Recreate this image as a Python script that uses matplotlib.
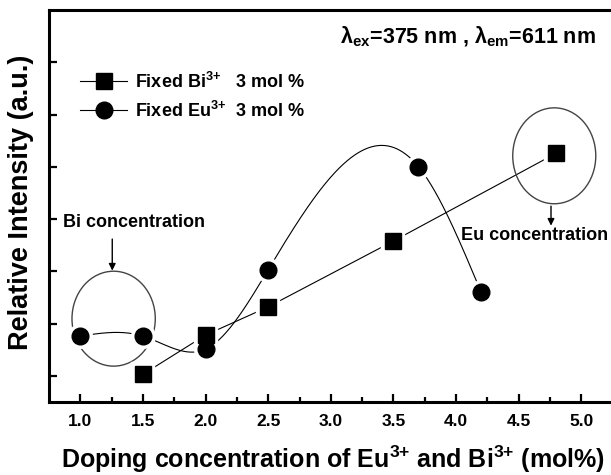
import matplotlib.pyplot as plt
import numpy as np
from matplotlib.patches import Ellipse
from matplotlib.lines import Line2D
from matplotlib import font_manager

# data (y in arbitrary units, one unit per major tick)
bi_x = [1.5, 2.0, 2.5, 3.5, 4.8]
bi_y = [1.03, 1.78, 2.32, 3.58, 5.26]
eu_x = [1.0, 1.5, 2.0, 2.5, 3.7, 4.2]
eu_y = [1.76, 1.76, 1.51, 3.03, 5.0, 2.6]
x_ticks = [1.0, 1.5, 2.0, 2.5, 3.0, 3.5, 4.0, 4.5, 5.0]
y_ticks = [1, 2, 3, 4, 5, 6, 7]

names = {f.name for f in font_manager.fontManager.ttflist}
fam = 'Liberation Sans Narrow' if 'Liberation Sans Narrow' in names else 'Liberation Sans'
plt.rcParams['font.family'] = [fam, 'DejaVu Sans']
plt.rcParams['font.weight'] = 'bold'
plt.rcParams['mathtext.fontset'] = 'custom'
plt.rcParams['mathtext.bf'] = fam + ':bold'
plt.rcParams['mathtext.rm'] = fam + ':bold'
plt.rcParams['mathtext.it'] = fam + ':bold'


def natural_spline(x, y, xs):
    x = np.asarray(x, float)
    y = np.asarray(y, float)
    n = len(x)
    h = np.diff(x)
    A = np.zeros((n, n))
    r = np.zeros(n)
    A[0, 0] = A[-1, -1] = 1
    for i in range(1, n - 1):
        A[i, i - 1] = h[i - 1]
        A[i, i] = 2 * (h[i - 1] + h[i])
        A[i, i + 1] = h[i]
        r[i] = 3 * ((y[i + 1] - y[i]) / h[i] - (y[i] - y[i - 1]) / h[i - 1])
    c = np.linalg.solve(A, r)
    b = np.diff(y) / h - h * (2 * c[:-1] + c[1:]) / 3
    d = np.diff(c) / (3 * h)
    idx = np.clip(np.searchsorted(x, xs) - 1, 0, n - 2)
    dx = xs - x[idx]
    return y[idx] + b[idx] * dx + c[idx] * dx ** 2 + d[idx] * dx ** 3


fig = plt.figure(figsize=(6.11, 4.75), dpi=100)
ax = fig.add_axes([0.0802, 0.1537, 0.9198, 0.8253])

# connecting lines
ax.plot(bi_x, bi_y, color='k', lw=0.8, zorder=1)
xs = np.linspace(eu_x[0], eu_x[-1], 400)
ax.plot(xs, natural_spline(eu_x, eu_y, xs), color='k', lw=0.8, zorder=1)

# white halos give the gap between line and symbol
ax.plot(bi_x, bi_y, ls='none', marker='s', ms=11, mfc='white', mec='white', mew=6, zorder=2)
ax.plot(eu_x, eu_y, ls='none', marker='o', ms=12, mfc='white', mec='white', mew=6, zorder=2)
ax.plot(bi_x, bi_y, ls='none', marker='s', ms=11, mfc='k', mec='k', zorder=3)
ax.plot(eu_x, eu_y, ls='none', marker='o', ms=12, mfc='k', mec='k', zorder=3)

# ellipses and arrows
ax.add_patch(Ellipse((1.266, 2.094), 0.665, 1.816, fill=False, ec='#444444', lw=1.0))
ax.add_patch(Ellipse((4.784, 5.21), 0.663, 1.835, fill=False, ec='#444444', lw=1.0))
ax.annotate('', xy=(1.255, 2.96), xytext=(1.255, 3.67),
            arrowprops=dict(arrowstyle='-|>', color='k', lw=1.0, mutation_scale=10))
ax.annotate('', xy=(4.758, 3.82), xytext=(4.758, 4.30),
            arrowprops=dict(arrowstyle='-|>', color='k', lw=1.0, mutation_scale=10))
ax.text(0.864, 3.925, 'Bi concentration', ha='left', va='center', fontsize=13, fontweight='bold')
ax.text(4.628, 3.69, 'Eu concentration', ha='center', va='center', fontsize=13, fontweight='bold')

ax.text(0.973, 0.931, r'λ$_{\mathbf{ex}}$=375 nm , λ$_{\mathbf{em}}$=611 nm',
        transform=ax.transAxes, ha='right', va='center', fontsize=15.5, fontweight='bold')

handles = [Line2D([], [], color='k', lw=0.8, marker='s', ms=11, mfc='k', mec='k'),
           Line2D([], [], color='k', lw=0.8, marker='o', ms=12, mfc='k', mec='k')]
labels = [r'Fixed Bi$^{\mathbf{3{+}}}$   3 mol %', r'Fixed Eu$^{\mathbf{3{+}}}$  3 mol %']
ax.legend(handles, labels, loc='upper left', bbox_to_anchor=(0.056, 0.843),
          frameon=False, borderpad=0, borderaxespad=0, handlelength=2.6,
          handletextpad=0.4, labelspacing=0.5, prop={'size': 13, 'weight': 'bold'})

ax.set_xlim(0.75, 5.237)
ax.set_ylim(0.5, 8.0)
ax.set_xticks(x_ticks)
ax.set_xticklabels(['%.1f' % v for v in x_ticks])
ax.set_xticks(np.arange(1.25, 5.0, 0.5), minor=True)
ax.set_yticks(y_ticks)
ax.set_yticklabels([])
ax.tick_params(direction='in', length=6, width=1.6, labelsize=12.5, pad=9)
ax.tick_params(which='minor', direction='in', length=3.5, width=1.6)
ax.spines['right'].set_visible(False)
for s in ['left', 'bottom', 'top']:
    ax.spines[s].set_linewidth(2.2)

ax.set_xlabel(r'Doping concentration of Eu$^{\mathbf{3{+}}}$ and Bi$^{\mathbf{3{+}}}$ (mol%)',
              fontsize=18, fontweight='bold')
ax.xaxis.set_label_coords(0.505, -0.105)
ax.set_ylabel('Relative Intensity (a.u.)', fontsize=19.5, fontweight='bold')
ax.yaxis.set_label_coords(-0.027, 0.51)

fig.savefig('out.png', dpi=100)
